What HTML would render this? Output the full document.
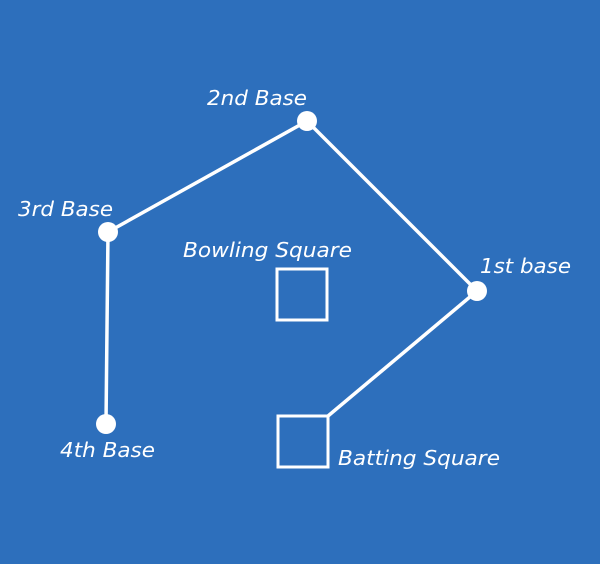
<!DOCTYPE html>
<html><head><meta charset="utf-8"><style>
html,body{margin:0;padding:0;background:#2d6fbc;}
svg{display:block}
text{font-family:"DejaVu Sans","Liberation Sans",sans-serif;font-style:italic;font-size:20px;fill:#fff;}
</style></head><body>
<svg width="600" height="564" viewBox="0 0 600 564">
<rect width="600" height="564" fill="#2d6fbc"/>
<g stroke="#fff" stroke-width="3.5" fill="none">
<polyline points="106,424 108,232 307,121 477,291 328,416"/>
<rect x="277" y="269" width="50" height="51" stroke-width="3"/>
<rect x="278" y="416" width="50" height="51" stroke-width="3"/>
</g>
<g fill="#fff">
<circle cx="307" cy="121" r="10"/>
<circle cx="108" cy="232" r="10"/>
<circle cx="477" cy="291" r="10"/>
<circle cx="106" cy="424" r="10"/>
</g>
<text x="207" y="105" textLength="100" lengthAdjust="spacingAndGlyphs">2nd Base</text>
<text x="18" y="216" textLength="95" lengthAdjust="spacingAndGlyphs">3rd Base</text>
<text x="183" y="257" textLength="169" lengthAdjust="spacingAndGlyphs">Bowling Square</text>
<text x="480" y="273" textLength="91" lengthAdjust="spacingAndGlyphs">1st base</text>
<text x="60" y="457" textLength="95" lengthAdjust="spacingAndGlyphs">4th Base</text>
<text x="338" y="465" textLength="162" lengthAdjust="spacingAndGlyphs">Batting Square</text>
</svg>
</body></html>
